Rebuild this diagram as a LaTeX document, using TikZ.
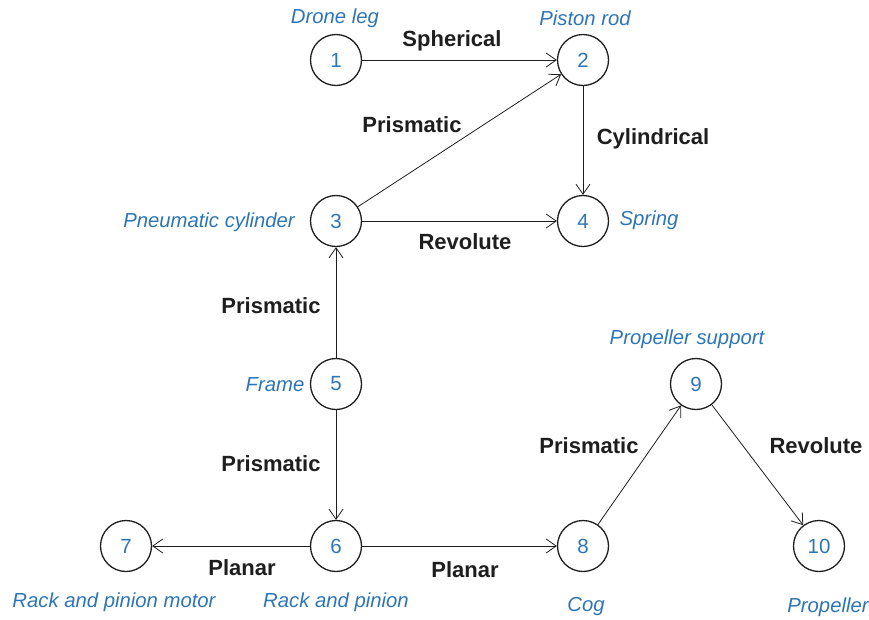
\documentclass[tikz,border=0pt]{standalone}
\usepackage{fontspec}
\setmainfont{Liberation Sans}
\usetikzlibrary{arrows.meta}
\definecolor{lblue}{RGB}{46,117,182}
\definecolor{ink}{RGB}{30,30,30}
\tikzset{
  part/.style={circle,draw=ink,line width=1.3pt,minimum size=51pt,inner sep=0pt,text=lblue,font=\fontsize{20.5}{24}\selectfont},
  partlabel/.style={text=lblue,font=\fontsize{20.3}{24}\selectfont\itshape,inner sep=0pt},
  joint/.style={text=ink,font=\fontsize{22}{26}\selectfont\bfseries,inner sep=0pt},
  link/.style={draw=ink,line width=0.8pt,-{Straight Barb[length=10pt,width=14pt,line width=0.8pt]}}
}
\begin{document}
\begin{tikzpicture}[x=1pt,y=-1pt]
\useasboundingbox (0,0) rectangle (869,619);
\node[part] (n1) at (336,60) {1};
\node[part] (n2) at (583,60) {2};
\node[part] (n3) at (336,221) {3};
\node[part] (n4) at (583,221) {4};
\node[part] (n5) at (336,384) {5};
\node[part] (n6) at (336,546) {6};
\node[part] (n7) at (126,546) {7};
\node[part] (n8) at (583,546) {8};
\node[part] (n9) at (696,384) {9};
\node[part] (n10) at (819,546) {10};

\draw[link] (n1) -- (n2);
\draw[link] (n3) -- (n2);
\draw[link] (n2) -- (n4);
\draw[link] (n3) -- (n4);
\draw[link] (n5) -- (n3);
\draw[link] (n5) -- (n6);
\draw[link] (n6) -- (n7);
\draw[link] (n6) -- (n8);
\draw[link] (n8) -- (n9);
\draw[link] (n9) -- (n10);

\node[partlabel] (l1) at (335,18) {Drone leg};
\node[partlabel] (l2) at (585,18) {Piston rod};
\node[partlabel] (l3) at (209,222) {Pneumatic cylinder};
\node[partlabel] (l4) at (649,220) {Spring};
\node[partlabel] (l5) at (275,385) {Frame};
\node[partlabel] (l9) at (687,339) {Propeller support};
\node[partlabel] (l7) at (114,602) {Rack and pinion motor};
\node[partlabel] (l6) at (336,602) {Rack and pinion};
\node[partlabel] (l8) at (586,607) {Cog};
\node[partlabel] (l10) at (828,607) {Propeller};

\node[joint] (j12) at (452,41) {Spherical};
\node[joint] (j32) at (412,125) {Prismatic};
\node[joint] (j24) at (653,139) {Cylindrical};
\node[joint] (j34) at (465,242) {Revolute};
\node[joint] (j53) at (271,306) {Prismatic};
\node[joint] (j56) at (271,464) {Prismatic};
\node[joint] (j89) at (589,446) {Prismatic};
\node[joint] (j910) at (816,446) {Revolute};
\node[joint] (j67) at (242,568) {Planar};
\node[joint] (j68) at (465,570) {Planar};
\end{tikzpicture}
\end{document}
